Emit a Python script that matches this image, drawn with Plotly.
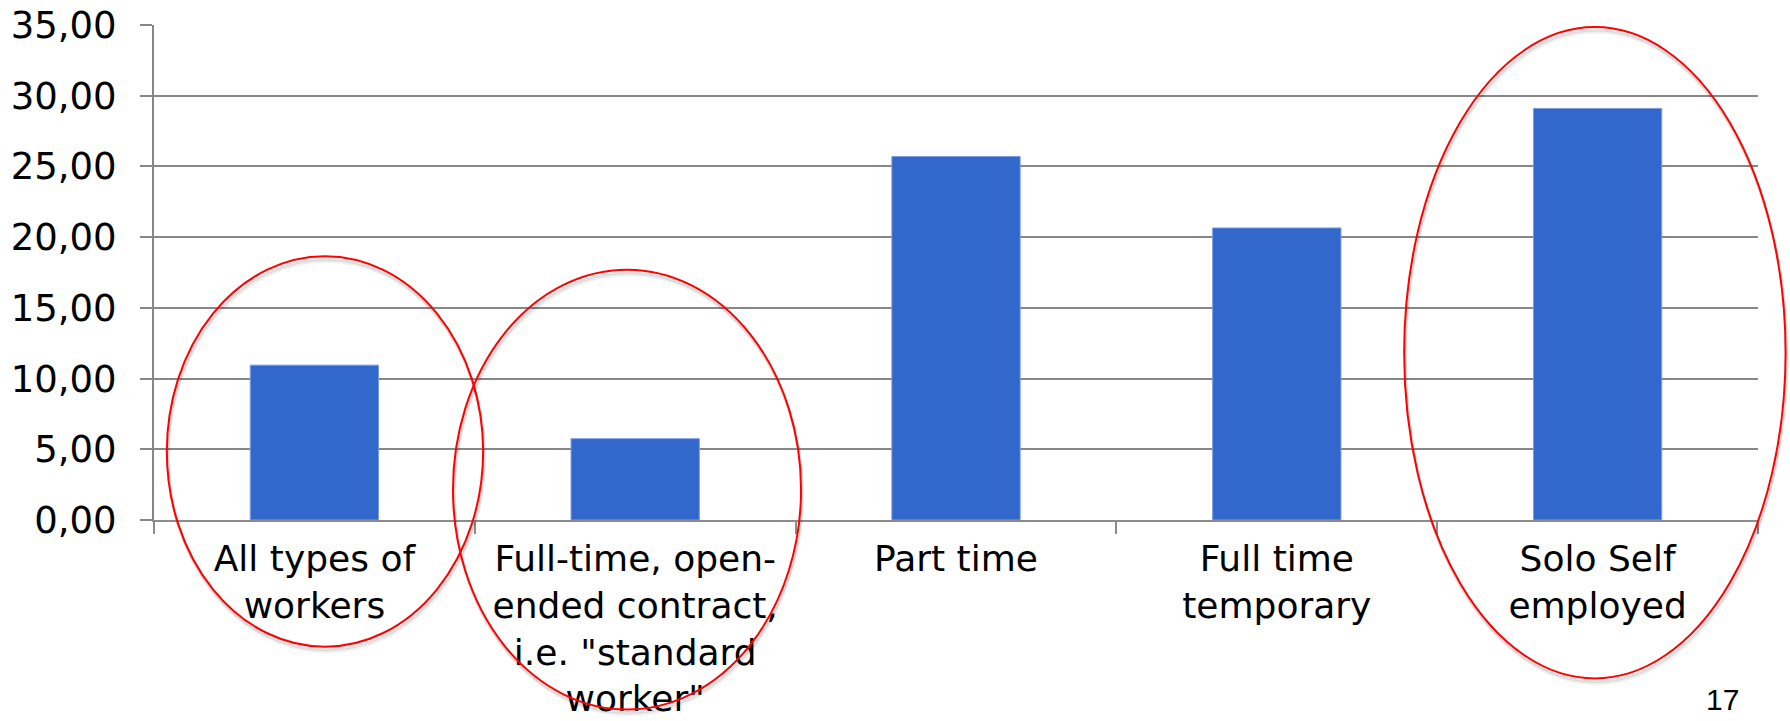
import plotly.graph_objects as go

# Category labels (line breaks as they appear under the axis)
categories = [
    "All types of<br>workers",
    "Full-time, open-<br>ended contract,<br>i.e. \"standard<br>worker\"",
    "Part time",
    "Full time<br>temporary",
    "Solo Self<br>employed",
]
values = [10.95, 5.75, 25.7, 20.65, 29.1]

y_ticks = [0, 5, 10, 15, 20, 25, 30, 35]
y_tick_labels = ["0,00", "5,00", "10,00", "15,00", "20,00", "25,00", "30,00", "35,00"]

# Highlight ellipses given in (category index, value) units: x0, x1, y0, y1
highlights = [
    (-0.46, 0.526, -8.96, 18.65),
    (0.432, 1.517, -13.4, 17.7),
    (3.397, 4.586, -11.2, 34.85),
]

X_RANGE = (-0.5, len(categories) - 0.5)
Y_RANGE = (0, 35)

W, H = 1790, 721
M = dict(l=154, r=32, t=25, b=201)


def to_paper_x(x):
    return (x - X_RANGE[0]) / (X_RANGE[1] - X_RANGE[0])


def to_paper_y(y):
    return (y - Y_RANGE[0]) / (Y_RANGE[1] - Y_RANGE[0])


fig = go.Figure(
    go.Bar(
        x=categories,
        y=values,
        marker=dict(color="#3267CC", line=dict(color="#7C9DE3", width=1)),
        width=0.4,
        hoverinfo="skip",
    )
)

shapes = []
for x0, x1, y0, y1 in highlights:
    # soft drop shadow
    for off, alpha in ((3, 0.10), (5, 0.06)):
        dx = off / (W - M["l"] - M["r"])
        dy = off / (H - M["t"] - M["b"])
        shapes.append(dict(
            type="circle", xref="paper", yref="paper",
            x0=to_paper_x(x0) + dx * 0.3, x1=to_paper_x(x1) + dx * 0.3,
            y0=to_paper_y(y0) - dy, y1=to_paper_y(y1) - dy,
            line=dict(color=f"rgba(0,0,0,{alpha})", width=3),
            layer="above",
        ))
    shapes.append(dict(
        type="circle", xref="paper", yref="paper",
        x0=to_paper_x(x0), x1=to_paper_x(x1),
        y0=to_paper_y(y0), y1=to_paper_y(y1),
        line=dict(color="#FF0000", width=2),
        layer="above",
    ))

fig.update_layout(
    width=W, height=H,
    margin=M,
    paper_bgcolor="white",
    plot_bgcolor="white",
    showlegend=False,
    font=dict(family="DejaVu Sans, Verdana, sans-serif", size=37, color="black"),
    shapes=shapes,
    annotations=[dict(
        text="17", xref="paper", yref="paper",
        x=to_paper_x(4.39), y=to_paper_y(-14.0),
        xanchor="center", yanchor="bottom", showarrow=False,
        font=dict(family="Liberation Sans, Arial, sans-serif", size=30, color="black"),
    )],
)

fig.update_xaxes(
    type="category",
    range=list(X_RANGE),
    automargin=False,
    tickson="boundaries",
    ticks="outside",
    ticklen=12,
    tickwidth=1.5,
    tickcolor="#8C8C8C",
    showline=True,
    linecolor="#8C8C8C",
    linewidth=1.5,
    showgrid=False,
    tickangle=0,
    ticklabelstandoff=6,
    tickfont=dict(size=36),
)

fig.update_yaxes(
    range=list(Y_RANGE),
    automargin=False,
    tickmode="array",
    tickvals=y_ticks,
    ticktext=y_tick_labels,
    ticks="outside",
    ticklen=12,
    tickwidth=2,
    tickcolor="#878787",
    showgrid=True,
    gridcolor="#878787",
    gridwidth=2,
    showline=True,
    linecolor="#878787",
    linewidth=2,
    zeroline=False,
    ticklabelstandoff=16,
    tickfont=dict(size=37),
)

fig.write_html("out.html")
